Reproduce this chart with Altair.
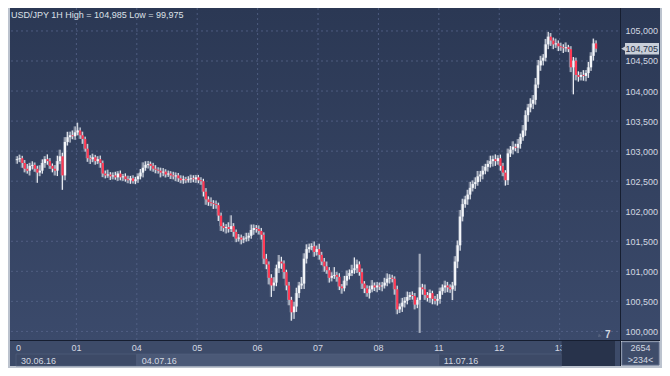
import altair as alt
import pandas as pd

# ---------------- data ----------------
first_open = 102.850
close_30_06 = [102.866, 102.882, 102.803, 102.707, 102.675, 102.755, 102.771, 102.707, 102.643, 102.675, 102.803, 102.866,
               102.834, 102.755, 102.707, 102.675, 102.834, 102.914, 102.596, 103.153, 103.232, 103.264, 103.248, 103.312]
close_01_07 = [103.344, 103.264, 103.201, 103.041, 102.882, 102.866, 102.898, 102.834, 102.866, 102.803, 102.627, 102.596,
               102.611, 102.580, 102.596, 102.564, 102.627, 102.564, 102.580, 102.532, 102.516, 102.548, 102.500, 102.532]
close_04_07 = [102.580, 102.643, 102.723, 102.771, 102.787, 102.755, 102.707, 102.691, 102.675, 102.643, 102.659, 102.611,
               102.627, 102.596, 102.580, 102.596, 102.548, 102.516, 102.532, 102.516, 102.532, 102.548, 102.532, 102.564]
close_05_07 = [102.516, 102.500, 102.325, 102.197, 102.150, 102.134, 102.118, 102.102, 101.927, 101.752, 101.720, 101.736,
               101.704, 101.752, 101.656, 101.545, 101.561, 101.529, 101.545, 101.561, 101.592, 101.688, 101.720, 101.704]
close_06_07 = [101.672, 101.608, 101.210, 101.115, 100.892, 100.764, 100.812, 101.051, 101.162, 101.131, 100.987, 100.764,
               100.525, 100.318, 100.414, 100.637, 100.764, 100.796, 101.210, 101.369, 101.401, 101.417, 101.322, 101.369]
close_07_07 = [101.274, 101.162, 101.083, 101.019, 100.892, 100.924, 100.940, 100.908, 100.748, 100.717, 100.844, 100.924,
               100.971, 101.019, 101.051, 101.115, 100.987, 100.796, 100.717, 100.637, 100.701, 100.764, 100.732, 100.764]
close_08_07 = [100.748, 100.764, 100.812, 100.876, 100.892, 100.876, 100.701, 100.366, 100.414, 100.478, 100.510, 100.573,
               100.605, 100.589, 100.446, 100.525, 100.732, 100.701, 100.605, 100.557, 100.637, 100.541, 100.510, 100.541]
close_11_07 = [100.669, 100.732, 100.764, 100.732, 100.701, 100.764, 101.162, 101.433, 101.911, 102.118, 102.197, 102.277,
               102.389, 102.452, 102.484, 102.580, 102.611, 102.675, 102.739, 102.787, 102.834, 102.866, 102.834, 102.882]
close_12_07 = [102.755, 102.643, 102.516, 102.962, 103.025, 103.073, 103.057, 103.121, 103.232, 103.344, 103.599, 103.726,
               103.790, 103.853, 104.108, 104.427, 104.506, 104.554, 104.777, 104.905, 104.841, 104.777, 104.793, 104.745]
close_13_07 = [104.729, 104.713, 104.729, 104.697, 104.395, 104.506, 104.268, 104.236, 104.268, 104.252, 104.299, 104.395,
               104.586, 104.793, 104.705]

# wick lengths above / below the body, in hundredths of a yen
wick_up_30_06 = [5, 6, 4, 5, 8, 5, 6, 4, 5, 9, 6, 5, 8, 5, 4, 6, 9, 11, 6, 8, 9, 6, 8, 10]
wick_up_01_07 = [13, 5, 6, 4, 8, 5, 6, 4, 5, 6, 4, 5, 8, 4, 5, 6, 4, 5, 4, 5, 6, 4, 5, 4]
wick_up_04_07 = [5, 6, 9, 6, 5, 4, 5, 6, 4, 5, 6, 4, 5, 4, 6, 5, 4, 5, 6, 4, 5, 6, 5, 4]
wick_up_05_07 = [4, 5, 4, 6, 5, 8, 5, 6, 4, 5, 6, 5, 8, 18, 5, 4, 6, 5, 4, 8, 5, 9, 6, 5]
wick_up_06_07 = [6, 5, 4, 8, 5, 6, 9, 6, 11, 8, 5, 4, 6, 5, 8, 9, 6, 11, 9, 8, 6, 5, 8, 6]
wick_up_07_07 = [9, 5, 6, 8, 5, 6, 13, 5, 6, 4, 8, 9, 6, 9, 18, 8, 5, 6, 4, 5, 6, 9, 5, 6]
wick_up_08_07 = [5, 6, 8, 9, 6, 5, 4, 6, 5, 8, 6, 9, 5, 6, 5, 4, 56, 6, 8, 5, 6, 4, 5, 8]
wick_up_11_07 = [6, 5, 8, 6, 5, 6, 9, 8, 11, 9, 6, 8, 10, 6, 8, 9, 6, 8, 5, 6, 9, 6, 8, 5]
wick_up_12_07 = [6, 5, 4, 8, 6, 9, 5, 8, 6, 9, 8, 6, 9, 8, 11, 9, 8, 6, 9, 8, 6, 5, 8, 5]
wick_up_13_07 = [6, 5, 8, 4, 5, 6, 5, 6, 5, 8, 5, 9, 6, 8, 5]

wick_dn_30_06 = [6, 5, 8, 6, 5, 8, 6, 5, 17, 6, 5, 8, 6, 5, 6, 8, 9, 5, 24, 8, 6, 9, 5, 6]
wick_dn_01_07 = [5, 6, 8, 5, 6, 8, 5, 6, 5, 8, 6, 5, 4, 6, 5, 4, 6, 5, 6, 4, 5, 6, 4, 5]
wick_dn_04_07 = [6, 5, 8, 5, 6, 8, 5, 6, 5, 8, 6, 5, 4, 6, 5, 8, 6, 5, 6, 5, 4, 6, 5, 6]
wick_dn_05_07 = [5, 6, 8, 9, 6, 5, 8, 6, 9, 8, 6, 9, 6, 5, 8, 6, 5, 8, 6, 5, 6, 5, 8, 6]
wick_dn_06_07 = [6, 8, 9, 8, 11, 19, 9, 6, 8, 9, 11, 8, 9, 14, 11, 9, 8, 6, 9, 8, 6, 5, 8, 6]
wick_dn_07_07 = [8, 6, 9, 6, 8, 6, 5, 8, 6, 9, 5, 8, 6, 5, 6, 8, 6, 9, 8, 6, 9, 5, 6, 8]
wick_dn_08_07 = [6, 8, 5, 6, 8, 6, 9, 8, 6, 9, 8, 6, 5, 6, 8, 6, 55, 9, 8, 6, 8, 9, 6, 8]
wick_dn_11_07 = [8, 6, 9, 8, 6, 18, 9, 11, 9, 8, 6, 9, 8, 6, 8, 6, 9, 8, 6, 8, 6, 9, 8, 6]
wick_dn_12_07 = [8, 6, 9, 8, 6, 8, 6, 9, 8, 6, 9, 11, 8, 9, 8, 6, 9, 8, 6, 8, 9, 8, 6, 8]
wick_dn_13_07 = [6, 8, 6, 5, 8, 45, 9, 8, 6, 8, 9, 8, 6, 8, 6]

day_labels = ["0", "01", "04", "05", "06", "07", "08", "11", "12", "13"]
day_starts = [0, 24, 48, 72, 96, 120, 144, 168, 192, 216]
price_ticks = [100.0, 100.5, 101.0, 101.5, 102.0, 102.5, 103.0, 103.5, 104.0, 104.5, 105.0]
date_labels = ["30.06.16", "04.07.16", "11.07.16"]
date_start = [0, 48, 168]
date_end = [48, 168, 216.8]
title_text = "USD/JPY 1H High = 104,985 Low = 99,975"
last_price = 104.705
last_price_text = "104,705"
count_text = "2654"
visible_text = ">234<"

# ---------------- assemble ----------------
closes = (close_30_06 + close_01_07 + close_04_07 + close_05_07 + close_06_07 +
          close_07_07 + close_08_07 + close_11_07 + close_12_07 + close_13_07)
wick_up = (wick_up_30_06 + wick_up_01_07 + wick_up_04_07 + wick_up_05_07 + wick_up_06_07 +
           wick_up_07_07 + wick_up_08_07 + wick_up_11_07 + wick_up_12_07 + wick_up_13_07)
wick_dn = (wick_dn_30_06 + wick_dn_01_07 + wick_dn_04_07 + wick_dn_05_07 + wick_dn_06_07 +
           wick_dn_07_07 + wick_dn_08_07 + wick_dn_11_07 + wick_dn_12_07 + wick_dn_13_07)
assert len(closes) == len(wick_up) == len(wick_dn), (len(closes), len(wick_up), len(wick_dn))
opens = [first_open] + closes[:-1]

rows = []
for i, (o, c, u, d) in enumerate(zip(opens, closes, wick_up, wick_dn)):
    rows.append(dict(t=i + 0.5, tg=i + 0.05, open=o, close=c,
                     high=round(max(o, c) + u / 100, 3), low=round(min(o, c) - d / 100, 3),
                     up=bool(c >= o)))
candles = pd.DataFrame(rows)

W, H = 609, 332
XMAX = 238
YMIN, YMAX = 99.857, 105.382
FONT = "Liberation Sans"
TXT = "#d3d8e1"

xs = alt.Scale(domain=[0, XMAX], nice=False, zero=False)
ys = alt.Scale(domain=[YMIN, YMAX], nice=False, zero=False)
y_axis = alt.Axis(orient="right", values=price_ticks, grid=False, domain=False, ticks=False,
                  labelExpr="replace(format(datum.value, '.3f'), '.', ',')",
                  labelPadding=5, labelAlign="left", labelFont=FONT, labelFontSize=9,
                  labelColor=TXT, title=None, zindex=1)

one = pd.DataFrame({"k": [0]})
bg_grad = alt.Gradient(gradient="linear",
                       stops=[alt.GradientStop(color="#2b3854", offset=0),
                              alt.GradientStop(color="#3b4a6b", offset=1)],
                       x1=0, x2=0, y1=0, y2=1)

plot_bg = alt.Chart(one).mark_rect(color=bg_grad).encode(
    x=alt.value(-1), x2=alt.value(W), y=alt.value(0), y2=alt.value(H))
right_bg = alt.Chart(one).mark_rect(color=bg_grad).encode(
    x=alt.value(W + 1), x2=alt.value(W + 40), y=alt.value(0), y2=alt.value(H))
strip_bg = alt.Chart(one).mark_rect(color="#3d4b69").encode(
    x=alt.value(-1), x2=alt.value(W), y=alt.value(H + 1), y2=alt.value(H + 26))

boxes = pd.DataFrame({"s": date_start, "e": date_end, "lab": date_labels,
                      "fill": ["#3d4a67", "#4b5977", "#3d4a67"]})
date_rects = alt.Chart(boxes).mark_rect(stroke="#56637f", strokeWidth=0.6).encode(
    x=alt.X("s:Q", scale=xs, axis=None), x2="e:Q",
    y=alt.value(H + 14), y2=alt.value(H + 26),
    fill=alt.Fill("fill:N", scale=None))

hgrid = alt.Chart(pd.DataFrame({"p": price_ticks})).mark_rule(
    color="#56648a", strokeDash=[2, 3], strokeWidth=1, opacity=0.8).encode(
    y=alt.Y("p:Q", scale=ys, axis=y_axis), x=alt.value(0), x2=alt.value(W))
vgrid = alt.Chart(pd.DataFrame({"d": day_starts[1:]})).mark_rule(
    color="#56648a", strokeDash=[2, 3], strokeWidth=1, opacity=0.8).encode(
    x=alt.X("d:Q", scale=xs, axis=None), y=alt.value(0), y2=alt.value(H))

vsep = alt.Chart(one).mark_rule(color="#161e30", strokeWidth=1).encode(
    x=alt.value(W + 0.5), y=alt.value(0), y2=alt.value(H + 26))
hsep = alt.Chart(one).mark_rule(color="#161e30", strokeWidth=1).encode(
    y=alt.value(H + 0.5), x=alt.value(-1), x2=alt.value(W + 40))

# faint trailing "ghost" of each candle, as seen in the reference rendering
ghost_wicks = alt.Chart(candles).mark_rule(color="#a9b1c1", strokeWidth=1, opacity=0.55).encode(
    x=alt.X("tg:Q", scale=xs, axis=None),
    y=alt.Y("low:Q", scale=ys, axis=y_axis), y2="high:Q")
ghost_bodies = alt.Chart(candles).mark_bar(size=2, color="#a9b1c1", opacity=0.45).encode(
    x=alt.X("tg:Q", scale=xs, axis=None),
    y=alt.Y("open:Q", scale=ys, axis=y_axis), y2="close:Q")

wicks = alt.Chart(candles).mark_rule(color="#eef1f6", strokeWidth=1).encode(
    x=alt.X("t:Q", scale=xs, axis=None),
    y=alt.Y("low:Q", scale=ys, axis=y_axis), y2="high:Q")
bodies = alt.Chart(candles).mark_bar(size=2.2).encode(
    x=alt.X("t:Q", scale=xs, axis=None),
    y=alt.Y("open:Q", scale=ys, axis=y_axis), y2="close:Q",
    color=alt.condition(alt.datum.up, alt.value("#f4f6fa"), alt.value("#ff3a55")))

days = pd.DataFrame({"d": day_starts, "lab": day_labels})
day_text = alt.Chart(days).mark_text(
    font=FONT, fontSize=9, color=TXT, baseline="top",
    align=alt.expr("datum.d == 0 ? 'left' : 'center'")).encode(
    x=alt.X("d:Q", scale=xs, axis=None), y=alt.value(H + 4), text="lab:N")

overlay = alt.Chart(pd.DataFrame({"s": [date_end[-1]], "e": [XMAX]})).mark_rect(color="#28334b").encode(
    x=alt.X("s:Q", scale=xs, axis=None), x2="e:Q", y=alt.value(H + 1), y2=alt.value(H + 26))

date_text = alt.Chart(boxes).mark_text(font=FONT, fontSize=9, color=TXT, align="left",
                                       baseline="middle", dx=5).encode(
    x=alt.X("s:Q", scale=xs, axis=None), y=alt.value(H + 20.5), text="lab:N")

tag_df = pd.DataFrame({"p": [last_price], "lo": [last_price - 0.095], "hi": [last_price + 0.095],
                       "lab": [last_price_text]})
tag_box = alt.Chart(tag_df).mark_rect(color="#c9cfd9").encode(
    x=alt.value(W + 5), x2=alt.value(W + 39),
    y=alt.Y("lo:Q", scale=ys, axis=y_axis), y2="hi:Q")
tag_arrow = alt.Chart(tag_df).mark_point(shape="triangle-left", filled=True, size=28,
                                         color="#c9cfd9", opacity=1).encode(
    x=alt.value(W + 3.5), y=alt.Y("p:Q", scale=ys, axis=y_axis))
tag_text = alt.Chart(tag_df).mark_text(font=FONT, fontSize=9, color="#26304a", align="left",
                                       baseline="middle").encode(
    x=alt.value(W + 5.5), y=alt.Y("p:Q", scale=ys, axis=y_axis), text="lab:N")

title = alt.Chart(pd.DataFrame({"lab": [title_text]})).mark_text(
    font=FONT, fontSize=9, color="#dde1e8", align="left", baseline="middle").encode(
    x=alt.value(0), y=alt.value(7), text="lab:N")

marker_tri = alt.Chart(one).mark_point(shape="triangle-down", filled=True, size=14,
                                       color="#55627e", opacity=1, angle=45).encode(
    x=alt.value(W - 21), y=alt.value(H - 4))
marker_txt = alt.Chart(pd.DataFrame({"lab": ["7"]})).mark_text(
    font=FONT, fontSize=10, fontWeight="bold", color=TXT, align="left", baseline="middle").encode(
    x=alt.value(W - 15), y=alt.value(H - 5), text="lab:N")

cell = alt.Chart(one).mark_rect(color="#3f4d6a", stroke="#5b6886", strokeWidth=1).encode(
    x=alt.value(W + 2), x2=alt.value(W + 39), y=alt.value(H + 2), y2=alt.value(H + 25))
cell_text = alt.Chart(pd.DataFrame({"lab": [count_text, visible_text], "yy": [H + 7.5, H + 19.5]})).mark_text(
    font=FONT, fontSize=9, color=TXT, align="center", baseline="middle").encode(
    x=alt.value(W + 20.5), y=alt.Y("yy:Q", scale=None), text="lab:N")

chart = alt.layer(
    plot_bg, right_bg, strip_bg, date_rects, hgrid, vgrid, vsep, hsep,
    ghost_wicks, ghost_bodies, wicks, bodies, day_text, overlay, date_text,
    tag_box, tag_arrow, tag_text, title, marker_tri, marker_txt, cell, cell_text
).properties(
    width=W, height=H,
    autosize=alt.AutoSizeParams(type="none"),
    padding={"left": 3, "top": 0, "right": 42, "bottom": 28},
    background="#bcc3ce",
).configure_view(stroke=None)

chart.save("out.html", embed_options={"renderer": "svg", "actions": False})
